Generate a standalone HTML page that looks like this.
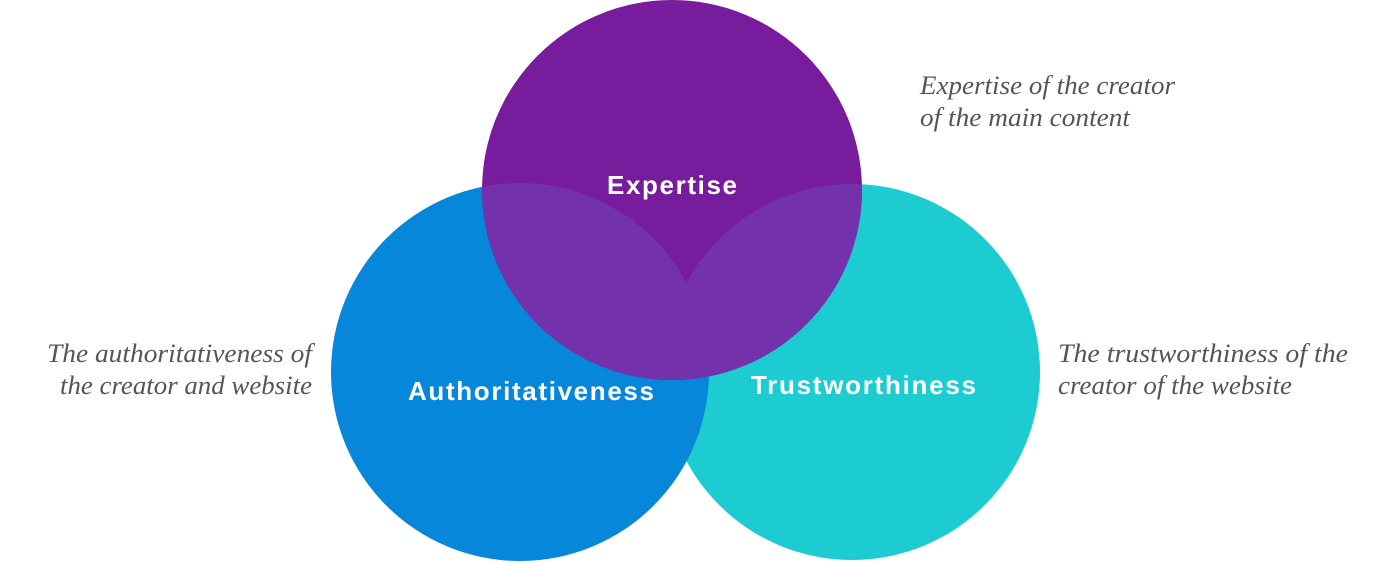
<!DOCTYPE html>
<html><head><style>
html,body{margin:0;padding:0;background:#fff;}
svg{display:block}
.l{font-family:"Liberation Sans",sans-serif;font-weight:bold;font-size:26px;fill:#fff}
.d{font-family:"Liberation Serif",serif;font-style:italic;font-size:26px;fill:#555}
</style></head><body>
<svg width="1378" height="563" viewBox="0 0 1378 563">
<defs><clipPath id="e"><circle cx="672" cy="190" r="190"/></clipPath></defs>
<circle cx="852" cy="372" r="188" fill="#1CCCD0"/>
<circle cx="520" cy="372" r="189" fill="#0787DA"/>
<circle cx="672" cy="190" r="190" fill="#761C9D"/>
<g clip-path="url(#e)" fill="#7331AB">
<circle cx="852" cy="372" r="188"/>
<circle cx="520" cy="372" r="189"/>
</g>
<text class="l" x="607" y="194" textLength="130" lengthAdjust="spacing">Expertise</text>
<text class="l" x="408" y="400" textLength="246" lengthAdjust="spacing">Authoritativeness</text>
<text class="l" x="751" y="394" textLength="225" lengthAdjust="spacing">Trustworthiness</text>
<text class="d" x="920" y="94" textLength="255" lengthAdjust="spacingAndGlyphs">Expertise of the creator</text>
<text class="d" x="920" y="126" textLength="210" lengthAdjust="spacingAndGlyphs">of the main content</text>
<text class="d" x="47" y="362" textLength="265" lengthAdjust="spacingAndGlyphs">The authoritativeness of</text>
<text class="d" x="60" y="394" textLength="252" lengthAdjust="spacingAndGlyphs">the creator and website</text>
<text class="d" x="1058" y="362" textLength="290" lengthAdjust="spacingAndGlyphs">The trustworthiness of the</text>
<text class="d" x="1058" y="394" textLength="234" lengthAdjust="spacingAndGlyphs">creator of the website</text>
</svg>
</body></html>
